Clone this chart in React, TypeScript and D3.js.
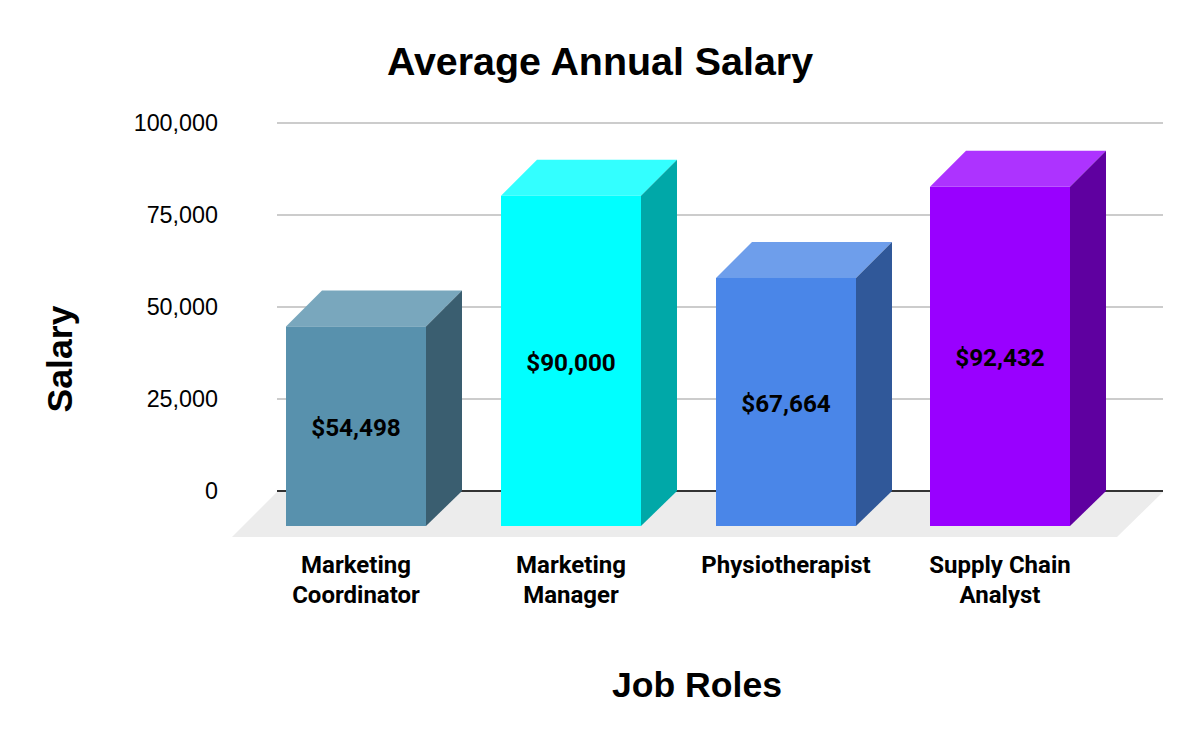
import React from "react";
import * as d3 from "d3";

const roles = [["Marketing", "Coordinator"], ["Marketing", "Manager"], ["Physiotherapist"], ["Supply Chain", "Analyst"]];
const salaries = [54498, 90000, 67664, 92432];
const yTicks = [0, 25000, 50000, 75000, 100000];
const frontColors = ["#5891ad", "#00ffff", "#4a86e8", "#9900ff"];
const topColors = ["#79a7bd", "#33ffff", "#6e9eeb", "#ad33ff"];
const sideColors = ["#3a5e70", "#00a8a8", "#305899", "#5f00a0"];

const width = 1200;
const height = 742;
const depthX = 36;
const depthTop = 36;
const depthBase = 35;
const arial = "'Liberation Sans'";

export default function App() {
  const y = d3.scaleLinear().domain([0, 100000]).range([491, 123]);
  const x = d3
    .scaleBand<number>()
    .domain(d3.range(roles.length))
    .range([249, 1107.7])
    .paddingInner(0.348)
    .paddingOuter(0.174);
  const fmt = d3.format(",");
  const poly = d3.line();

  return (
    <svg
      width={width}
      height={height}
      style={{ position: "absolute", left: 0, top: 0, fontFamily: "Roboto" }}
    >
      {yTicks.filter((t) => t > 0).map((t) => (
        <line key={t} x1={277} x2={1163} y1={y(t)} y2={y(t)} stroke="#cccccc" strokeWidth={2} />
      ))}
      <path
        d={poly([[277, y(0) + 1], [1163, y(0) + 1], [1117, 537], [232, 537]])! + "Z"}
        fill="#ececec"
      />
      <line x1={277} x2={1163} y1={y(0)} y2={y(0)} stroke="#333333" strokeWidth={2} />
      {yTicks.map((t) => (
        <text
          key={t}
          x={218}
          y={y(t) + 0.3}
          dy="0.35em"
          textAnchor="end"
          fontFamily={arial}
          fontSize={23.33}
          fill="#000"
        >
          {fmt(t)}
        </text>
      ))}
      {salaries.map((v, i) => {
        const x0 = Math.round(x(i)!);
        const x1 = x0 + Math.round(x.bandwidth());
        const yBack = y(v);
        const yFront = yBack + depthTop;
        const yBase = y(0) + depthBase;
        return (
          <g key={i}>
            <path
              d={poly([[x0, yFront], [x1, yFront], [x1 + depthX, yBack], [x0 + depthX, yBack]])! + "Z"}
              fill={topColors[i]}
            />
            <path
              d={poly([[x1, yFront], [x1 + depthX, yBack], [x1 + depthX, y(0)], [x1, yBase]])! + "Z"}
              fill={sideColors[i]}
            />
            <rect x={x0} y={yFront} width={x1 - x0} height={yBase - yFront} fill={frontColors[i]} />
            <text
              x={(x0 + x1) / 2}
              y={(yFront + yBase) / 2 + 1.5}
              dy="0.35em"
              textAnchor="middle"
              fontSize={24.3}
              fontWeight={700}
              fill="#000"
            >
              ${fmt(v)}
            </text>
            {roles[i].map((line, j) => (
              <text
                key={j}
                x={(x0 + x1) / 2}
                y={573 + j * 30}
                textAnchor="middle"
                fontSize={24}
                fontWeight={700}
                fill="#000"
              >
                {line}
              </text>
            ))}
          </g>
        );
      })}
      <text x={600} y={75} textAnchor="middle" fontFamily={arial} fontSize={39.4} fontWeight={700} fill="#000">
        Average Annual Salary
      </text>
      <text x={697} y={697} textAnchor="middle" fontFamily={arial} fontSize={35.6} fontWeight={700} fill="#000">
        Job Roles
      </text>
      <text
        transform="translate(72,359) rotate(-90)"
        textAnchor="middle"
        fontFamily={arial}
        fontSize={35.6}
        fontWeight={700}
        fill="#000"
      >
        Salary
      </text>
    </svg>
  );
}
